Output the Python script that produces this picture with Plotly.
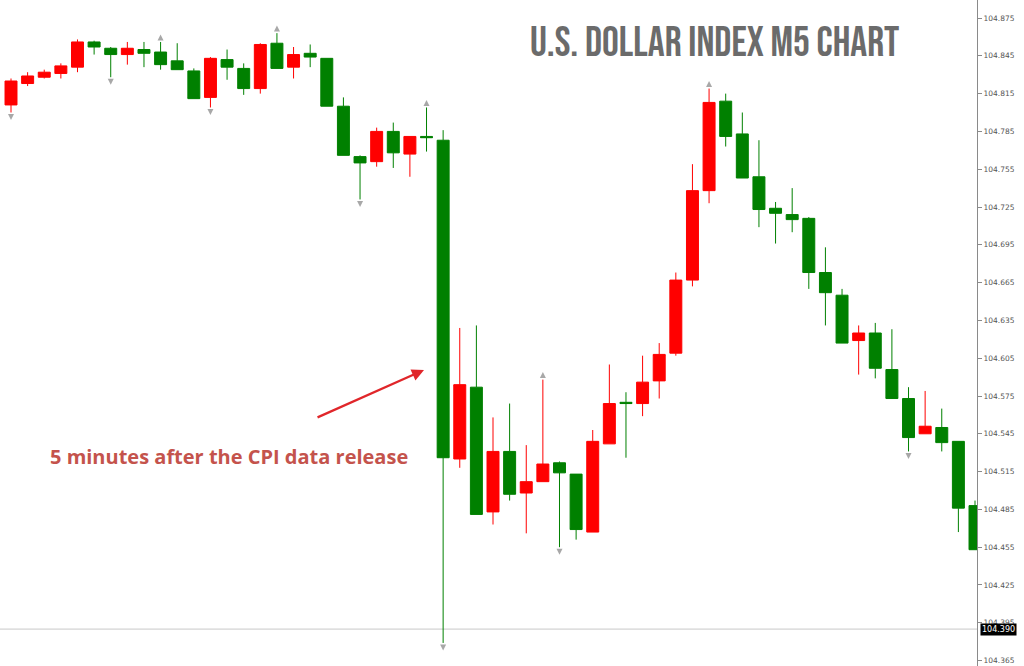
import plotly.graph_objects as go

# ---- data (USD index M5) ----
open_ = [104.806, 104.823, 104.828, 104.831, 104.836, 104.856, 104.851, 104.846, 104.850, 104.848,
         104.841, 104.833, 104.812, 104.842, 104.835, 104.819, 104.855, 104.836, 104.847, 104.843,
         104.805, 104.765, 104.761, 104.785, 104.767, 104.781, 104.778, 104.525, 104.582, 104.483,
         104.531, 104.498, 104.507, 104.522, 104.513, 104.467, 104.537, 104.570, 104.569, 104.587,
         104.609, 104.667, 104.738, 104.809, 104.783, 104.749, 104.724, 104.719, 104.716, 104.673,
         104.655, 104.619, 104.625, 104.596, 104.573, 104.545, 104.550, 104.539, 104.488]
high = [104.827, 104.832, 104.834, 104.839, 104.858, 104.857, 104.852, 104.856, 104.856, 104.856,
        104.855, 104.835, 104.844, 104.850, 104.839, 104.855, 104.863, 104.852, 104.854, 104.843,
        104.812, 104.766, 104.788, 104.792, 104.781, 104.804, 104.786, 104.629, 104.631, 104.558,
        104.569, 104.536, 104.588, 104.523, 104.513, 104.548, 104.600, 104.578, 104.607, 104.617,
        104.673, 104.759, 104.819, 104.815, 104.800, 104.778, 104.729, 104.740, 104.717, 104.693,
        104.660, 104.631, 104.633, 104.628, 104.582, 104.579, 104.565, 104.539, 104.492]
low = [104.800, 104.821, 104.827, 104.827, 104.832, 104.846, 104.828, 104.838, 104.836, 104.834,
       104.834, 104.811, 104.804, 104.826, 104.814, 104.815, 104.835, 104.827, 104.836, 104.805,
       104.766, 104.731, 104.757, 104.756, 104.749, 104.769, 104.379, 104.518, 104.481, 104.473,
       104.492, 104.466, 104.507, 104.455, 104.461, 104.467, 104.537, 104.526, 104.559, 104.573,
       104.607, 104.662, 104.728, 104.773, 104.748, 104.709, 104.696, 104.705, 104.660, 104.631,
       104.617, 104.592, 104.589, 104.573, 104.531, 104.545, 104.531, 104.467, 104.453]
close = [104.825, 104.829, 104.832, 104.837, 104.856, 104.852, 104.846, 104.851, 104.847, 104.838,
         104.834, 104.811, 104.843, 104.836, 104.819, 104.854, 104.835, 104.846, 104.844, 104.805,
         104.766, 104.760, 104.785, 104.768, 104.781, 104.780, 104.526, 104.584, 104.481, 104.531,
         104.497, 104.507, 104.521, 104.514, 104.469, 104.539, 104.569, 104.569, 104.586, 104.608,
         104.667, 104.738, 104.808, 104.781, 104.748, 104.723, 104.720, 104.715, 104.673, 104.657,
         104.617, 104.625, 104.597, 104.573, 104.542, 104.551, 104.538, 104.486, 104.453]
bars = list(range(len(open_)))

fractal_up = [9, 16, 25, 32, 42]
fractal_down = [0, 6, 12, 21, 26, 33, 54]

tick_vals = [104.365, 104.395, 104.425, 104.455, 104.485, 104.515, 104.545, 104.575, 104.605,
             104.635, 104.665, 104.695, 104.725, 104.755, 104.785, 104.815, 104.845, 104.875]
tick_text = ["%.3f" % v for v in tick_vals]

current_price = 104.390
title_text = "U.S. DOLLAR INDEX M5 CHART"
note_text = "5 minutes after the CPI data release"

# ---- figure ----
fig = go.Figure()
fig.add_trace(go.Candlestick(
    x=bars, open=open_, high=high, low=low, close=close,
    increasing=dict(fillcolor="#ff0000", line=dict(color="#ff0000", width=1)),
    decreasing=dict(fillcolor="#008000", line=dict(color="#008000", width=1)),
    whiskerwidth=0, showlegend=False, hoverinfo="skip"))

off = 0.006
fig.add_trace(go.Scatter(
    x=fractal_up, y=[high[i] + off for i in fractal_up], mode="markers",
    marker=dict(symbol="arrow-up", size=6, color="#a8a8a8"), showlegend=False, hoverinfo="skip"))
fig.add_trace(go.Scatter(
    x=fractal_down, y=[low[i] - off for i in fractal_down], mode="markers",
    marker=dict(symbol="arrow-down", size=6, color="#a8a8a8"), showlegend=False, hoverinfo="skip"))

fig.add_shape(type="line", xref="paper", x0=0, x1=1, y0=current_price, y1=current_price,
              line=dict(color="#c8c8c8", width=1), layer="below")

fig.add_annotation(xref="paper", x=1, y=current_price, text=current_price.__format__(".3f"),
                   showarrow=False, xanchor="left", xshift=3, bgcolor="#000000",
                   font=dict(color="#ffffff", size=8, family="DejaVu Sans"), borderpad=1)

fig.add_annotation(xref="paper", yref="paper", x=0.7313, y=0.934, text=title_text,
                   showarrow=False, xanchor="center", yanchor="middle",
                   font=dict(family="Bebas Neue, Oswald, Roboto Condensed, Liberation Sans Narrow, DejaVu Sans Condensed, sans-serif",
                             size=42, color="#6b6b6b"))

fig.add_annotation(xref="paper", yref="paper", x=0.2339, y=0.3153, text="<b>" + note_text + "</b>",
                   showarrow=False, xanchor="center", yanchor="middle",
                   font=dict(family="Open Sans", size=20, color="#c4534c"))

fig.add_annotation(x=24.85, y=104.5956, ax=-108, ay=48, text="", showarrow=True,
                   arrowhead=2, arrowsize=1.1, arrowwidth=2.2, arrowcolor="#e0262a")

fig.update_layout(
    width=1024, height=666, margin=dict(l=0, r=47, t=0, b=0),
    paper_bgcolor="white", plot_bgcolor="white",
    xaxis=dict(range=[-0.662, 58.12], visible=False, rangeslider=dict(visible=False), fixedrange=True),
    yaxis=dict(range=[104.3607, 104.8893], side="right", showgrid=False, zeroline=False,
               showline=True, linecolor="#8a8a8a", linewidth=1, ticks="outside", ticklen=4,
               tickcolor="#8a8a8a", tickvals=tick_vals, ticktext=tick_text,
               tickfont=dict(size=7.5, color="#555555", family="DejaVu Sans"), fixedrange=True),
    boxgap=0, boxgroupgap=0.28,
)

fig.write_html("out.html", config={"displayModeBar": False},
               post_script="document.body.style.margin='0';")
